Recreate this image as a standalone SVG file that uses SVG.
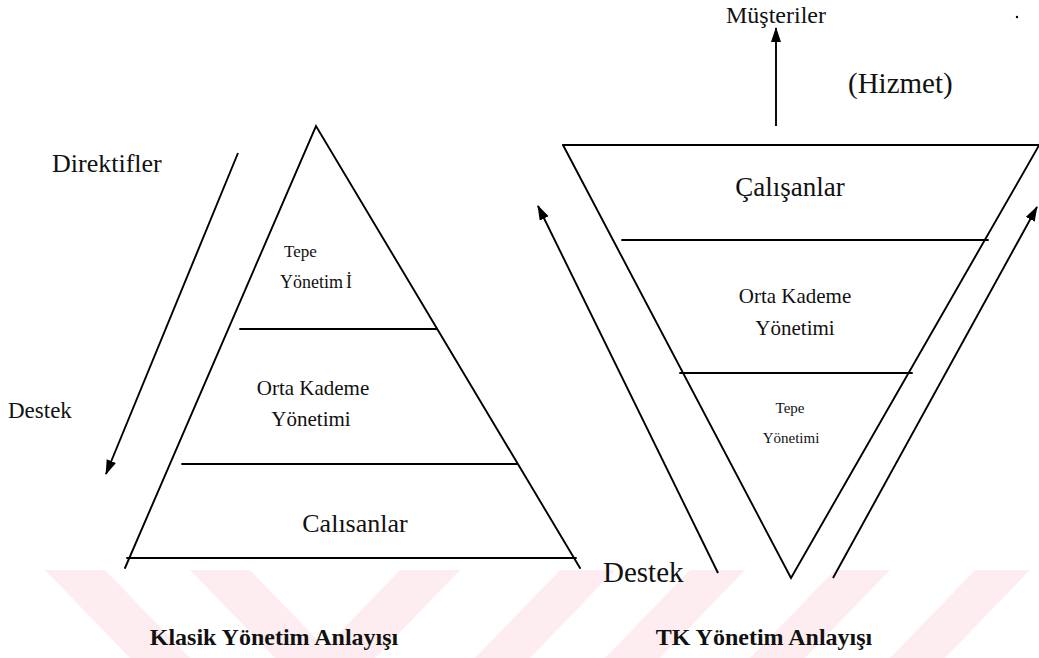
<svg xmlns="http://www.w3.org/2000/svg" width="1039" height="658" viewBox="0 0 1039 658">
<style>
.ln{stroke:#000;stroke-width:1.9;fill:none;stroke-linecap:round}
.ar{stroke:#000;stroke-width:1.9;fill:none;marker-end:url(#ah)}
.t{font-family:"Liberation Serif","Times New Roman",serif;fill:#111;text-anchor:middle}
.tl{font-family:"Liberation Serif","Times New Roman",serif;fill:#111}
.b{font-weight:bold}
.wm{fill:#fdedf0}
</style>
<defs>
<marker id="ah" markerUnits="userSpaceOnUse" markerWidth="15" markerHeight="12" refX="14" refY="5" orient="auto">
<path d="M0,0 L15,5 L0,10 z" fill="#000"/>
</marker>
</defs>
<rect width="1039" height="658" fill="#fff"/>
<g id="watermark">
<polygon class="wm" points="45,570 105,570 190,658 130,658"/>
<polygon class="wm" points="190,570 250,570 335,658 275,658"/>
<polygon class="wm" points="400,570 460,570 375,658 315,658"/>
<polygon class="wm" points="560,570 615,570 530,658 475,658"/>
<polygon class="wm" points="690,570 745,570 660,658 605,658"/>
<polygon class="wm" points="835,570 890,570 805,658 750,658"/>
<polygon class="wm" points="975,570 1030,570 945,658 890,658"/>
</g>
<g id="klasik-pyramid">
<path class="ln" d="M125,568 L316,126 L580,568"/>
<line class="ln" x1="127" y1="558" x2="576" y2="558"/>
</g>
<g id="k-tepe">
<line class="ln" x1="240" y1="329" x2="437" y2="329"/>
<text class="tl" x="284" y="257" font-size="17">Tepe</text>
<text class="tl" x="280" y="288" font-size="18">Yönetim<tspan dx="3">İ</tspan></text>
</g>
<g id="k-orta">
<line class="ln" x1="182" y1="464" x2="517" y2="464"/>
<text class="t" x="313" y="395" font-size="21">Orta Kademe</text>
<text class="t" x="311" y="426" font-size="21">Yönetimi</text>
</g>
<g id="k-calisanlar">
<text class="t" x="355" y="532" font-size="26">Calısanlar</text>
</g>
<g id="tk-pyramid">
<path class="ln" d="M563,145 L791,578 L1045,135"/>
<line class="ln" x1="563" y1="145" x2="1039" y2="145"/>
</g>
<g id="tk-calisanlar">
<text class="t" x="790" y="196" font-size="27">Çalışanlar</text>
</g>
<g id="tk-orta">
<line class="ln" x1="622" y1="240" x2="988" y2="240"/>
<text class="t" x="795" y="303" font-size="21">Orta Kademe</text>
<text class="t" x="795" y="335" font-size="21">Yönetimi</text>
</g>
<g id="tk-tepe">
<line class="ln" x1="680" y1="373" x2="912" y2="373"/>
<text class="t" x="790" y="413" font-size="15">Tepe</text>
<text class="t" x="791" y="443" font-size="15">Yönetimi</text>
</g>
<g id="connectors">
<line class="ar" x1="238" y1="153" x2="106" y2="474"/>
<line class="ar" x1="776" y1="126" x2="776" y2="28"/>
<line class="ar" x1="718" y1="573" x2="538" y2="206"/>
<line class="ar" x1="833" y1="578" x2="1037" y2="207"/>
</g>
<g id="labels">
<text class="tl" x="52" y="172" font-size="26">Direktifler</text>
<text class="tl" x="8" y="418" font-size="23">Destek</text>
<text class="t" x="776" y="23" font-size="24">Müşteriler</text>
<text class="tl" x="848" y="93" font-size="29">(Hizmet)</text>
<circle cx="1017" cy="17" r="1.2" fill="#000"/>
<text class="tl" x="603" y="582" font-size="29">Destek</text>
<text class="t b" x="274" y="645" font-size="24">Klasik Yönetim Anlayışı</text>
<text class="t b" x="764" y="645" font-size="24">TK Yönetim Anlayışı</text>
</g>
</svg>
